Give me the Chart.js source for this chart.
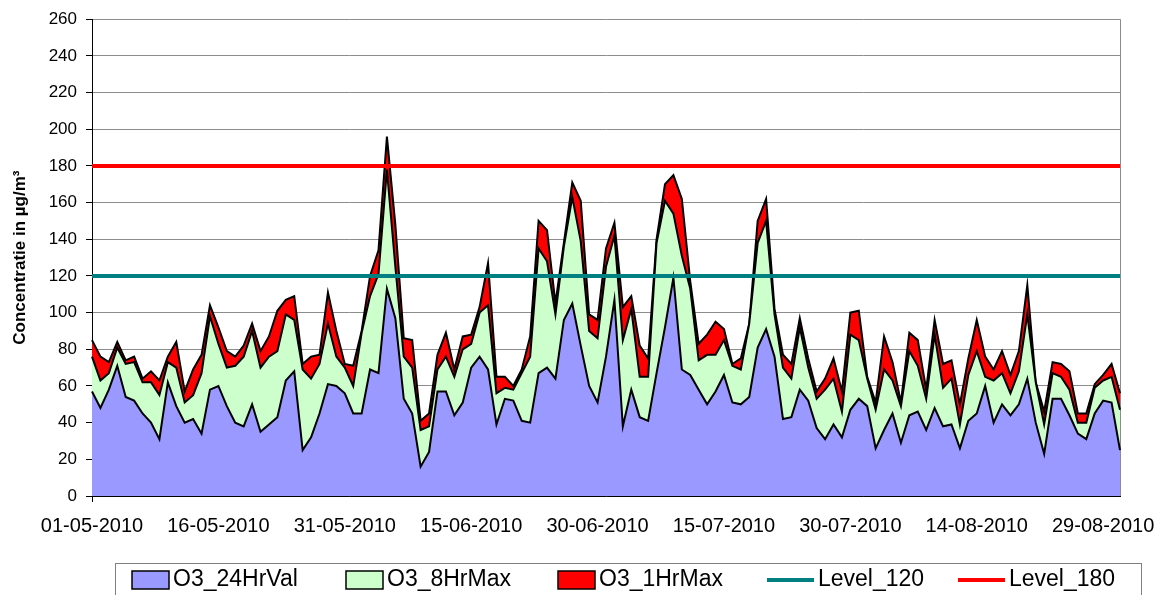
<!DOCTYPE html>
<html>
<head>
<meta charset="utf-8">
<script src="https://cdn.jsdelivr.net/npm/chart.js@4.4.0/dist/chart.umd.min.js"></script>
<style>
  html, body { margin: 0; padding: 0; background: #fff; }
</style>
</head>
<body>
<canvas id="ozon" width="1156" height="595"></canvas>
<script>
// ozon, dagwaarden 01-05-2010 t/m 31-08-2010 (µg/m3)

const o3_24HrVal = [
    57, 48, 58, 71, 54, 52, 45, 40, 31, 62, 49, 40, 42, 34, 58, 60, 49, 40, 38, 50,
    35, 39, 43, 63, 68, 25, 32, 45, 61, 60, 56, 45, 45, 69, 67, 113, 97, 53, 45, 16,
    24, 57, 57, 44, 51, 70, 76, 69, 39, 53, 52, 41, 40, 67, 70, 64, 96, 105, 82, 60,
    51, 76, 107, 38, 58, 43, 41, 67, 92, 119, 69, 66, 58, 50, 57, 66, 51, 50, 54, 81,
    91, 76, 42, 43, 58, 52, 37, 31, 39, 32, 47, 53, 49, 26, 36, 45, 29, 44, 46, 36,
    48, 38, 39, 26, 41, 45, 60, 40, 50, 44, 50, 64, 40, 23, 53, 53, 44, 34, 31, 45,
    52, 51, 25
];

const o3_8HrMax = [
    76, 63, 67, 81, 72, 73, 62, 62, 55, 73, 70, 51, 55, 67, 98, 83, 70, 71, 76, 90,
    70, 76, 79, 99, 96, 69, 64, 72, 94, 76, 70, 60, 89, 109, 121, 178, 125, 76, 70, 36,
    38, 69, 76, 65, 80, 83, 100, 104, 56, 59, 58, 67, 76, 135, 128, 99, 136, 163, 139, 90,
    86, 125, 142, 85, 102, 65, 65, 138, 161, 154, 131, 113, 74, 77, 77, 85, 71, 69, 94, 138,
    150, 99, 70, 64, 92, 70, 53, 58, 64, 46, 88, 85, 64, 47, 69, 63, 49, 79, 71, 53,
    88, 59, 64, 39, 66, 79, 65, 63, 67, 56, 68, 99, 62, 39, 67, 65, 58, 40, 40, 59,
    63, 65, 47
];

const o3_1HrMax = [
    85, 76, 73, 84, 74, 76, 64, 68, 63, 76, 84, 57, 69, 77, 104, 92, 79, 76, 82, 94,
    79, 87, 101, 107, 109, 72, 76, 77, 111, 90, 72, 71, 90, 120, 134, 196, 148, 86, 85, 41,
    45, 77, 89, 69, 87, 88, 103, 127, 65, 65, 60, 69, 87, 150, 145, 105, 138, 171, 161, 99,
    96, 135, 149, 103, 109, 82, 75, 140, 170, 175, 162, 117, 83, 88, 95, 91, 72, 75, 94, 150,
    162, 102, 77, 72, 97, 75, 57, 64, 75, 57, 100, 101, 65, 51, 87, 73, 51, 89, 85, 58,
    96, 72, 74, 50, 75, 96, 76, 69, 79, 66, 79, 115, 62, 46, 73, 72, 68, 45, 45, 61,
    66, 72, 56
];

const level120 = 120;
const level180 = 180;

const tickLabels = ['01-05-2010', '16-05-2010', '31-05-2010', '15-06-2010', '30-06-2010',
    '15-07-2010', '30-07-2010', '14-08-2010', '29-08-2010'];

// categorie-as: één label per dag
const days = [];
for (let i = 0; i < o3_24HrVal.length; i++) {
    const d = new Date(2010, 4, 1 + i);
    const dd = String(d.getDate()).padStart(2, '0');
    const mm = String(d.getMonth() + 1).padStart(2, '0');
    days.push(dd + '-' + mm + '-' + d.getFullYear());
}

const fontFamily = '"Liberation Sans", Arial, Helvetica, sans-serif';
Chart.defaults.font.family = fontFamily;
Chart.defaults.color = '#000';

const isTick = idx => tickLabels.includes(days[idx]);

// rechterrand van het plotvlak
const plotBorder = {
    id: 'plotBorder',
    beforeDatasetsDraw(chart) {
        const { ctx, chartArea } = chart;
        ctx.save();
        ctx.strokeStyle = '#8c8c8c';
        ctx.lineWidth = 1;
        ctx.beginPath();
        ctx.moveTo(Math.round(chartArea.right) + 0.5, chartArea.top);
        ctx.lineTo(Math.round(chartArea.right) + 0.5, chartArea.bottom);
        ctx.stroke();
        ctx.restore();
    }
};

// legenda in een kader onder de grafiek (zoals Excel)
const legendX = [132, 346, 558, 767, 958];
const boxLegend = {
    id: 'boxLegend',
    afterDraw(chart) {
        const ctx = chart.ctx;
        const y = 580;
        ctx.save();
        ctx.strokeStyle = '#808080';
        ctx.lineWidth = 1;
        ctx.strokeRect(115.5, 563.5, 1026, 60);
        ctx.font = '23px ' + fontFamily;
        ctx.textBaseline = 'middle';
        chart.data.datasets.forEach((ds, i) => {
            const x = legendX[i];
            let textX;
            if (ds.fill) {
                ctx.fillStyle = ds.backgroundColor;
                ctx.fillRect(x, y - 9, 37, 18);
                ctx.strokeStyle = '#000';
                ctx.lineWidth = 1.5;
                ctx.strokeRect(x, y - 9, 37, 18);
                textX = x + 41;
            } else {
                ctx.strokeStyle = ds.borderColor;
                ctx.lineWidth = 4;
                ctx.beginPath();
                ctx.moveTo(x, y);
                ctx.lineTo(x + 47, y);
                ctx.stroke();
                textX = x + 51;
            }
            ctx.fillStyle = '#000';
            ctx.fillText(ds.label, textX, y);
        });
        ctx.restore();
    }
};

const ctx = document.getElementById('ozon');

const myChart = new Chart(ctx, {
    type: 'line',
    data: {
        labels: days,
        datasets: [{
            label: 'O3_24HrVal',
            data: o3_24HrVal,
            backgroundColor: '#9999ff',
            borderColor: '#000',
            borderWidth: 2,
            fill: 'origin',
            order: 1
        }, {
            label: 'O3_8HrMax',
            data: o3_8HrMax,
            backgroundColor: '#ccffcc',
            borderColor: '#000',
            borderWidth: 2,
            fill: 'origin',
            order: 2
        }, {
            label: 'O3_1HrMax',
            data: o3_1HrMax,
            backgroundColor: '#ff0000',
            borderColor: '#000',
            borderWidth: 2,
            fill: 'origin',
            order: 3
        }, {
            label: 'Level_120',
            data: days.map(() => level120),
            borderColor: '#008080',
            borderWidth: 4,
            fill: false,
            order: 0
        }, {
            label: 'Level_180',
            data: days.map(() => level180),
            borderColor: '#ff0000',
            borderWidth: 4,
            fill: false,
            order: 0
        }]
    },
    options: {
        responsive: false,
        animation: false,
        devicePixelRatio: 1,
        layout: { padding: { top: 12, right: 36, bottom: 0, left: 0 } },
        elements: {
            point: { radius: 0, hoverRadius: 0 },
            line: { tension: 0, borderJoinStyle: 'miter' }
        },
        plugins: {
            legend: { display: false },
            tooltip: { enabled: false }
        },
        scales: {
            x: {
                offset: false,
                grid: {
                    drawOnChartArea: false,
                    tickLength: 6,
                    color: '#000',
                    tickColor: '#000',
                    lineWidth: c => (isTick(c.index) ? 1 : 0),
                    tickWidth: c => (isTick(c.index) ? 1 : 0)
                },
                border: { color: '#000', width: 1 },
                ticks: {
                    autoSkip: false,
                    maxRotation: 0,
                    minRotation: 0,
                    padding: 12,
                    color: '#000',
                    font: { size: 20 },
                    callback: function (value, index) {
                        return isTick(index) ? days[index] : null;
                    }
                },
                afterFit: s => {
                    s.height = 99;
                    s.paddingLeft = 0;
                    s.paddingRight = 0;
                }
            },
            y: {
                min: 0,
                max: 260,
                ticks: {
                    stepSize: 20,
                    padding: 9,
                    color: '#000',
                    font: { size: 17 }
                },
                grid: {
                    color: '#8c8c8c',
                    tickColor: '#000',
                    tickLength: 6
                },
                border: { color: '#000', width: 1 },
                title: {
                    display: true,
                    text: 'Concentratie in µg/m³',
                    color: '#000',
                    font: { size: 17, weight: 'bold' },
                    padding: { top: 10, bottom: 0 }
                },
                afterFit: s => { s.width = 92; }
            }
        }
    },
    plugins: [plotBorder, boxLegend]
});
</script>
</body>
</html>
